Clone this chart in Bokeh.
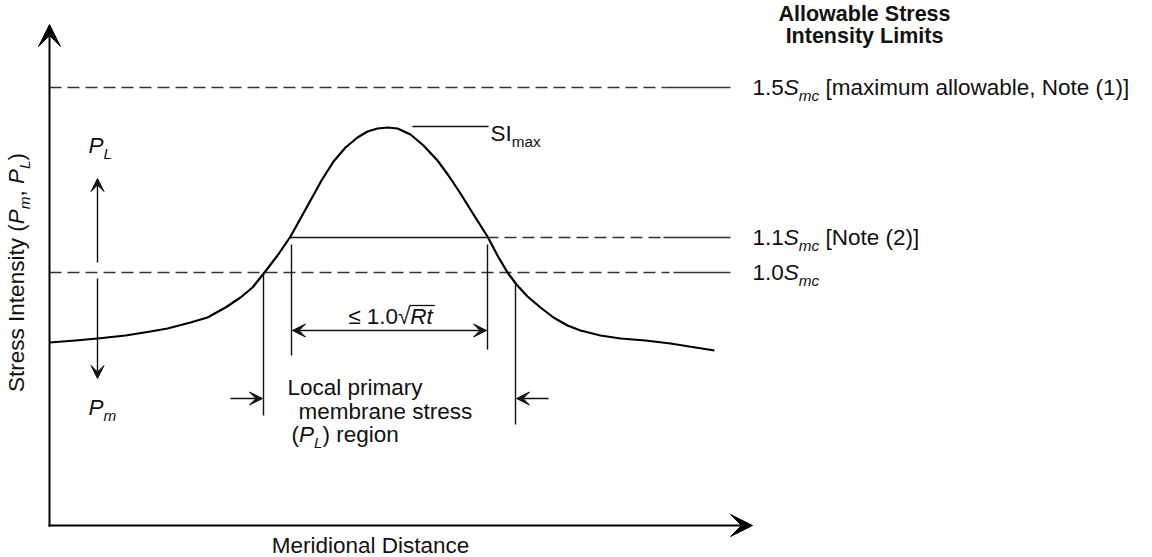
import numpy as np
from bokeh.plotting import figure
from bokeh.models import Range1d, Arrow, VeeHead
from bokeh.core.properties import value
from bokeh.embed import file_html
from bokeh.resources import INLINE

# ---------------- data (diagram units: x = meridional distance, y = stress intensity) ----------------
curve_x = [0, 26, 48, 76, 101, 118, 141, 158, 176, 191, 203, 215, 228, 241, 251, 261, 272, 284,
           296, 308, 318, 328, 338, 348, 361, 374, 388, 399, 411, 424, 438, 448, 458, 467, 478,
           491, 504, 518, 531, 551, 571, 596, 621, 646, 665]
curve_y = [183, 185, 187, 190, 194, 197, 203, 208, 218, 228, 238, 253, 270, 289, 307, 325, 345, 364,
           378, 388, 394, 397, 398, 397, 391, 380, 365, 350, 332, 311, 289, 270, 253, 241, 229,
           218, 208, 200, 195, 190, 187, 185, 182, 178, 175]

limit_labels = ["1.5", "1.1", "1.0"]
limit_notes = [" [maximum allowable, Note (1)]", " [Note (2)]", ""]
limit_levels = [438, 288, 253]

si_max = 398              # peak stress intensity
x_peak = 338
pl_region = [214, 466]    # local primary membrane stress region bounds
rt_region = [242, 438]    # 1.1 Smc crossings (<= 1.0 sqrt(Rt))

axis_x_end = 703
axis_y_end = 501
line_end = 681

FONT = "Liberation Sans"
FS = 22.5
FS_BOLD = 21.5
BASE_FIX = 0.37           # empirical baseline correction (em)
INK = "#111111"

W_REG = {' ': 278, '(': 333, ')': 333, ',': 278, '.': 278, '[': 278, ']': 278,
         'A': 667, 'D': 722, 'I': 278, 'L': 556, 'M': 833, 'N': 722, 'P': 667, 'R': 722, 'S': 667,
         'a': 556, 'b': 556, 'c': 500, 'd': 556, 'e': 556, 'g': 556, 'i': 222, 'l': 222, 'm': 833,
         'n': 556, 'o': 556, 'p': 556, 'r': 333, 's': 500, 't': 278, 'u': 556, 'w': 722, 'x': 500,
         'y': 500, '\u2264': 549, '\u221a': 549}
for _d in "0123456789":
    W_REG[_d] = 556
W_BOLD = {' ': 278, 'A': 722, 'I': 278, 'L': 611, 'S': 667, 'a': 556, 'b': 611, 'e': 556,
          'i': 278, 'l': 278, 'm': 889, 'n': 611, 'o': 611, 'r': 389, 's': 556, 't': 333,
          'w': 778, 'y': 556}


def text_width(s, bold=False, scale=1.0):
    tbl = W_BOLD if bold else W_REG
    size = (FS_BOLD if bold else FS) * scale
    return sum(tbl.get(ch, 556) for ch in s) / 1000.0 * size


def rich(p, x, y, runs, align="left", angle=0.0, color=INK):
    """runs: (text, style, scale, drop_em); (x, y) is the visual baseline start."""
    widths = [text_width(t, st == "bold", sc) for t, st, sc, dr in runs]
    total = sum(widths)
    start = {"left": 0.0, "center": -total / 2.0, "right": -total}[align]
    ca, sa = np.cos(angle), np.sin(angle)
    pos = start
    out = []
    for (t, st, sc, dr), w in zip(runs, widths):
        size = (FS_BOLD if st == "bold" else FS) * sc
        core = t.lstrip(" ")
        lead = text_width(t[:len(t) - len(core)], st == "bold", sc)
        along = pos + lead
        up = -dr * FS + BASE_FIX * size
        dx = along * ca - up * sa
        dy = along * sa + up * ca
        p.text(x=[x + dx], y=[y + dy], text=[core.rstrip(" ")], angle=angle,
               text_font=value(FONT), text_font_size=f"{size:.1f}px",
               text_font_style=st, text_color=color,
               text_align="left", text_baseline="alphabetic")
        out.append((pos, w))
        pos += w
    return out


p = figure(width=1152, height=557, x_range=Range1d(-49, 1103), y_range=Range1d(-32, 525),
           output_backend="svg", toolbar_location=None, min_border=0,
           x_axis_location=None, y_axis_location=None)
p.grid.visible = False
p.outline_line_color = None
p.background_fill_color = "white"
p.border_fill_color = "white"

# ---------------- axes ----------------
p.add_layout(Arrow(end=VeeHead(size=22, fill_color="black", line_color="black"),
                   x_start=0, y_start=-1, x_end=0, y_end=axis_y_end, line_width=2, line_color="black"))
p.add_layout(Arrow(end=VeeHead(size=22, fill_color="black", line_color="black"),
                   x_start=-1, y_start=0, x_end=axis_x_end, y_end=0, line_width=2, line_color="black"))

# ---------------- limit lines ----------------
lv15, lv11, lv10 = limit_levels
DASH = "12 6"
GRAY = "#333333"
# 1.5 Smc
p.line([0, 616], [lv15, lv15], line_dash=DASH, line_color=GRAY, line_width=1.5)
p.line([616, line_end], [lv15, lv15], line_color=GRAY, line_width=1.5)
# 1.1 Smc
p.line([rt_region[0] - 1, rt_region[1] - 1], [lv11, lv11], line_color=INK, line_width=1.5)
p.line([rt_region[1] - 1, 611], [lv11, lv11], line_dash=DASH, line_color=GRAY, line_width=1.5)
p.line([614, line_end], [lv11, lv11], line_color=GRAY, line_width=1.5)
# 1.0 Smc
p.line([0, 620], [lv10, lv10], line_dash=DASH, line_color=GRAY, line_width=1.5)
p.line([624, line_end], [lv10, lv10], line_color=GRAY, line_width=1.5)

# ---------------- stress intensity curve ----------------
p.line(curve_x, curve_y, line_color="black", line_width=2.2, line_join="round")

# SI max leader
p.line([x_peak + 25, x_peak + 101], [si_max + 1, si_max + 1], line_color=INK, line_width=1.4)
rich(p, x_peak + 103, si_max - 14, [("SI", "normal", 1.0, 0.0), ("max", "normal", 0.68, 0.24)])

# ---------------- region verticals ----------------
p.line([pl_region[0], pl_region[0]], [lv10, 110], line_color=INK, line_width=1.4)
p.line([pl_region[1], pl_region[1]], [243, 101], line_color=INK, line_width=1.4)
p.line([rt_region[0], rt_region[0]], [281, 170], line_color=INK, line_width=1.4)
p.line([rt_region[1], rt_region[1]], [281, 176], line_color=INK, line_width=1.4)

# dimension arrow (<= 1.0 sqrt(Rt))
p.add_layout(Arrow(start=VeeHead(size=13, fill_color=INK, line_color=INK),
                   end=VeeHead(size=13, fill_color=INK, line_color=INK),
                   x_start=rt_region[0] + 1, y_start=195, x_end=rt_region[1] - 1, y_end=195,
                   line_width=1.4, line_color=INK))
xc = (rt_region[0] + rt_region[1]) / 2.0 + 1
runs = rich(p, xc, 201, [("\u2264 1.0\u221a", "normal", 1.0, 0.0), ("Rt", "italic", 1.0, 0.0)],
            align="center")
v0 = xc + runs[1][0] - 1
v1 = xc + runs[1][0] + runs[1][1] + 2
p.line([v0, v1], [220, 220], line_color=INK, line_width=1.3)

# side arrows pointing at PL region
p.add_layout(Arrow(end=VeeHead(size=13, fill_color=INK, line_color=INK),
                   x_start=pl_region[0] - 33, y_start=127, x_end=pl_region[0] - 1, y_end=127,
                   line_width=1.4, line_color=INK))
p.add_layout(Arrow(end=VeeHead(size=13, fill_color=INK, line_color=INK),
                   x_start=pl_region[1] + 33, y_start=127, x_end=pl_region[1] + 1, y_end=127,
                   line_width=1.4, line_color=INK))

rich(p, 238, 130, [("Local primary", "normal", 1.0, 0.0)])
rich(p, 249, 106, [("membrane stress", "normal", 1.0, 0.0)])
rich(p, 242, 83, [("(", "normal", 1.0, 0.0), ("P", "italic", 1.0, 0.0), ("L", "italic", 0.68, 0.24),
                  (") region", "normal", 1.0, 0.0)])

# ---------------- PL / Pm arrows ----------------
p.add_layout(Arrow(end=VeeHead(size=13, fill_color=INK, line_color=INK),
                   x_start=48, y_start=263, x_end=48, y_end=347, line_width=1.4, line_color=INK))
p.add_layout(Arrow(end=VeeHead(size=13, fill_color=INK, line_color=INK),
                   x_start=48, y_start=247, x_end=48, y_end=147, line_width=1.4, line_color=INK))
rich(p, 39, 372, [("P", "italic", 1.0, 0.0), ("L", "italic", 0.68, 0.24)])
rich(p, 39, 110, [("P", "italic", 1.0, 0.0), ("m", "italic", 0.68, 0.24)])

# ---------------- right-hand limit labels ----------------
rich(p, 815, 504, [("Allowable Stress", "bold", 1.0, 0.0)], align="center")
rich(p, 815, 482, [("Intensity Limits", "bold", 1.0, 0.0)], align="center")
for lab, note, lv in zip(limit_labels, limit_notes, limit_levels):
    r = [(lab, "normal", 1.0, 0.0), ("S", "italic", 1.0, 0.0), ("mc", "italic", 0.68, 0.24)]
    if note:
        r.append((note, "normal", 1.0, 0.0))
    rich(p, 703, lv - 8, r)

# ---------------- axis titles ----------------
rich(p, 321, -28, [("Meridional Distance", "normal", 1.0, 0.0)], align="center")
rich(p, -25, 253, [("Stress Intensity (", "normal", 1.0, 0.0), ("P", "italic", 1.0, 0.0),
                   ("m", "italic", 0.68, 0.24), (", ", "normal", 1.0, 0.0), ("P", "italic", 1.0, 0.0),
                   ("L", "italic", 0.68, 0.24), (")", "normal", 1.0, 0.0)],
     align="center", angle=np.pi / 2)

open("out.html", "w").write(file_html(p, INLINE))
